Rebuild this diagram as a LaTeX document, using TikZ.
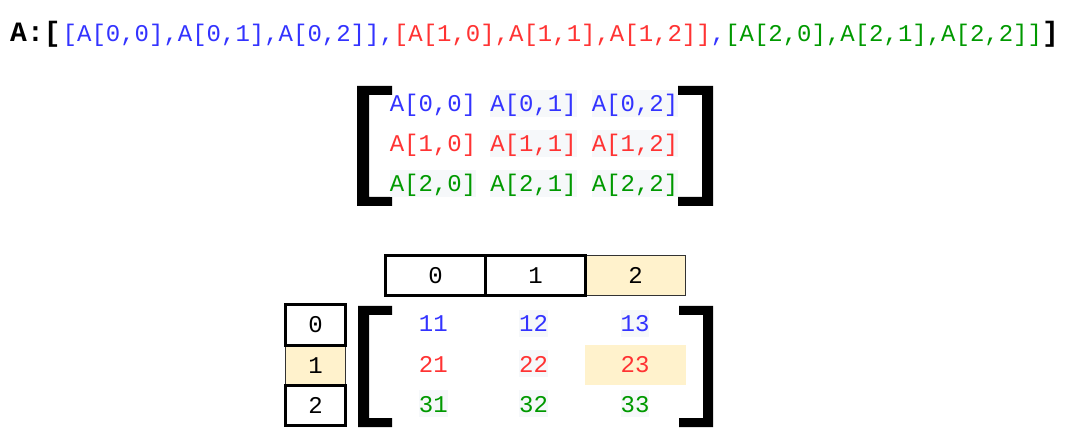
\documentclass[tikz,border=0pt]{standalone}
\usepackage{fontspec}
\newfontfamily\mono{Liberation Mono}
\definecolor{cb}{HTML}{3333FF}
\definecolor{cr}{HTML}{FF3333}
\definecolor{cg}{HTML}{009900}
\definecolor{hl}{HTML}{FFF2CC}
\definecolor{codebg}{HTML}{F6F8FA}
\tikzset{
  txt/.style={font=\mono\fontsize{24}{28}\selectfont, inner sep=0pt, anchor=base},
  boldtxt/.style={font=\mono\bfseries\fontsize{28}{32}\selectfont, inner sep=0pt, anchor=base west},
  codebox/.style={txt, fill=codebg, text height=22pt, text depth=5pt},
  plain/.style={txt, text height=22pt, text depth=5pt},
  idxthick/.style={draw=black, line width=3pt, font=\mono\fontsize{24}{28}\selectfont, inner sep=0pt, text height=16pt, text depth=0pt, outer sep=0pt},
  idxhl/.style={draw=black!80, line width=1pt, fill=hl, font=\mono\fontsize{24}{28}\selectfont, inner sep=0pt, text height=16pt, text depth=0pt, outer sep=0pt},
  topidx/.style={minimum width=100pt, minimum height=40pt},
  leftidx/.style={minimum width=60pt, minimum height=40pt},
}
\begin{document}
\begin{tikzpicture}[x=1pt,y=-1pt]
\useasboundingbox (0,0) rectangle (1071,446);
\fill[white] (0,0) rectangle (1071,446);

% top line
\node[boldtxt] (lbl) at (10,42) {A:[};
\node[txt, anchor=base west] (flat) at (62.5,42) {\textcolor{cb}{[A[0,0],A[0,1],A[0,2]],}\textcolor{cr}{[A[1,0],A[1,1],A[1,2]]}\textcolor{cb}{,}\textcolor{cg}{[A[2,0],A[2,1],A[2,2]]}};
\node[boldtxt] (rb) at (1042,42) {]};

% middle matrix brackets
\fill (357,86) -- (392,86) -- (392,95) -- (369,95) -- (369,197) -- (392,197) -- (392,206) -- (357,206) -- cycle;
\fill (713,86) -- (678,86) -- (678,95) -- (702,95) -- (702,197) -- (678,197) -- (678,206) -- (713,206) -- cycle;

% middle matrix entries
\node[plain, text=cb] (m00) at (433,112) {A[0,0]};
\node[codebox, text=cb] (m01) at (533.5,112) {A[0,1]};
\node[codebox, text=cb] (m02) at (635,112) {A[0,2]};
\node[plain, text=cr] (m10) at (433,152) {A[1,0]};
\node[codebox, text=cr] (m11) at (533.5,152) {A[1,1]};
\node[codebox, text=cr] (m12) at (635,152) {A[1,2]};
\node[codebox, text=cg] (m20) at (433,192) {A[2,0]};
\node[codebox, text=cg] (m21) at (533.5,192) {A[2,1]};
\node[codebox, text=cg] (m22) at (635,192) {A[2,2]};

% column index boxes
\node[idxhl, topidx] (c2) at (635.5,275.5) {2};
\node[idxthick, topidx] (c0) at (435.5,275.5) {0};
\node[idxthick, topidx] (c1) at (535.5,275.5) {1};

% row index boxes
\node[idxhl, leftidx] (r1) at (315.5,365) {1};
\node[idxthick, leftidx] (r0) at (315.5,325) {0};
\node[idxthick, leftidx] (r2) at (315.5,405) {2};

% lower matrix brackets
\fill (358,306) -- (392,306) -- (392,315) -- (369,315) -- (369,418) -- (392,418) -- (392,427) -- (358,427) -- cycle;
\fill (713,306) -- (679,306) -- (679,315) -- (703,315) -- (703,418) -- (679,418) -- (679,427) -- (713,427) -- cycle;

% highlighted cell
\fill[hl] (585,345) rectangle (685.5,385);

% lower matrix entries
\node[plain, text=cb] (v11) at (433.3,332) {11};
\node[codebox, text=cb] (v12) at (533.5,332) {12};
\node[codebox, text=cb] (v13) at (635,332) {13};
\node[plain, text=cr] (v21) at (433.3,372) {21};
\node[codebox, text=cr] (v22) at (533.5,372) {22};
\node[plain, text=cr] (v23) at (635,372) {23};
\node[codebox, text=cg] (v31) at (433.3,412) {31};
\node[codebox, text=cg] (v32) at (533.5,412) {32};
\node[codebox, text=cg] (v33) at (635,412) {33};
\end{tikzpicture}
\end{document}
